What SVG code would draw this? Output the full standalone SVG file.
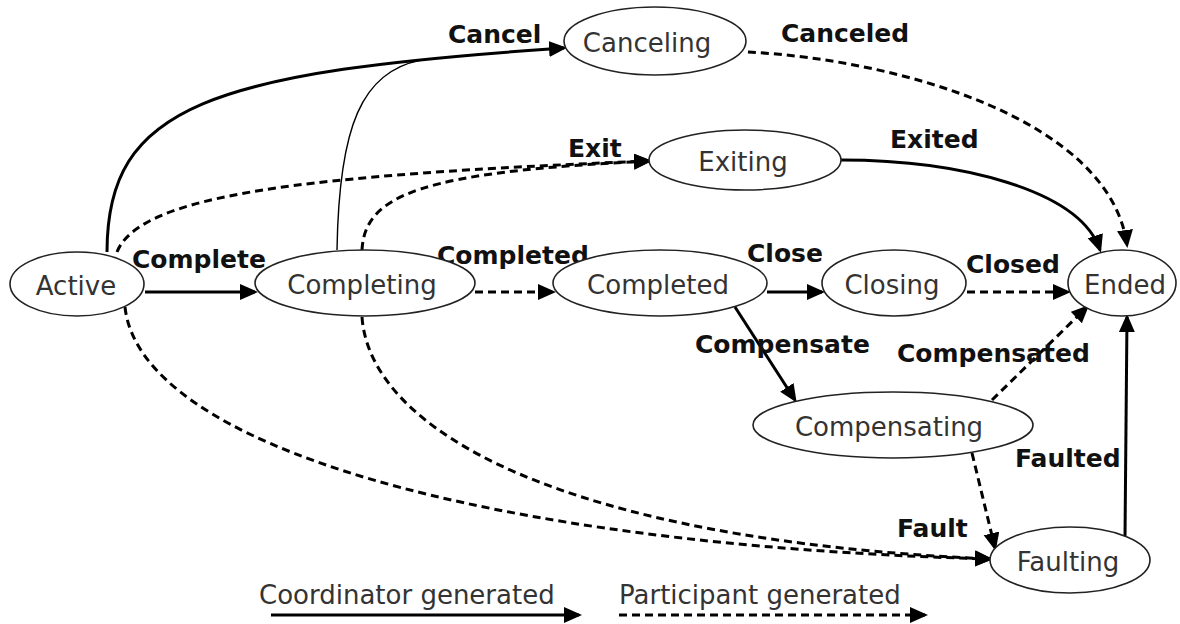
<svg xmlns="http://www.w3.org/2000/svg" width="1180" height="624" viewBox="0 0 1180 624">
<style>
.node ellipse{fill:#fff;stroke:#222;stroke-width:1.6}
.node text{font-family:"DejaVu Sans",Verdana,sans-serif;font-size:26px;fill:#333;text-anchor:middle}
.lbl{font-family:"DejaVu Sans",Verdana,sans-serif;font-size:25px;font-weight:bold;fill:#111}
.leg{font-family:"DejaVu Sans",Verdana,sans-serif;font-size:26px;fill:#333}
.solid{fill:none;stroke:#000;stroke-width:3;marker-end:url(#ah)}
.thin{fill:none;stroke:#000;stroke-width:1.4}
.dash{fill:none;stroke:#000;stroke-width:3;stroke-dasharray:8 5;marker-end:url(#ah)}
</style>
<defs>
<marker id="ah" markerUnits="userSpaceOnUse" markerWidth="19" markerHeight="17" refX="15" refY="8" orient="auto">
<path d="M0,0 L18,8 L0,16 z" fill="#000"/>
</marker>
</defs>
<rect width="1180" height="624" fill="#fff"/>
<g id="connectors">
<path class="solid" d="M107,252 C107,105 210,72 564,48"/>
<path class="thin" d="M337,250 C339,125 362,72 421,60"/>
<path class="dash" d="M117,252 C140,195 300,175 649,161"/>
<path class="dash" d="M362,250 C365,195 420,172 649,161"/>
<path class="dash" d="M125,307 C140,445 480,545 990,559"/>
<path class="dash" d="M362,317 C370,430 560,540 990,559"/>
<path class="solid" d="M145,292 L255,292"/>
<path class="dash" d="M475,292 L553,292"/>
<path class="solid" d="M767,292 L822,292"/>
<path class="dash" d="M967,292 L1068,292"/>
<path class="solid" d="M841,160 C960,160 1080,190 1100,250"/>
<path class="dash" d="M748,52 C900,60 1110,120 1127,245"/>
<path class="solid" d="M735,307 L795,400"/>
<path class="dash" d="M992,400 L1087,307"/>
<path class="dash" d="M972,453 L995,548"/>
<path class="solid" d="M1125,537 L1127,317"/>
<text class="lbl" x="448" y="43">Cancel</text>
<text class="lbl" x="781" y="42">Canceled</text>
<text class="lbl" x="568" y="157">Exit</text>
<text class="lbl" x="890" y="148">Exited</text>
<text class="lbl" x="132" y="268">Complete</text>
<text class="lbl" x="437" y="264">Completed</text>
<text class="lbl" x="747" y="262">Close</text>
<text class="lbl" x="966" y="273">Closed</text>
<text class="lbl" x="695" y="353">Compensate</text>
<text class="lbl" x="897" y="362">Compensated</text>
<text class="lbl" x="1015" y="467">Faulted</text>
<text class="lbl" x="897" y="537">Fault</text>
</g>
<g id="node-active" class="node"><ellipse cx="77" cy="284" rx="67" ry="32"/><text x="76" y="295">Active</text></g>
<g id="node-completing" class="node"><ellipse cx="365" cy="283" rx="110" ry="33"/><text x="362" y="294">Completing</text></g>
<g id="node-completed" class="node"><ellipse cx="660" cy="283" rx="107" ry="33"/><text x="658" y="294">Completed</text></g>
<g id="node-closing" class="node"><ellipse cx="894" cy="283" rx="72" ry="33"/><text x="892" y="294">Closing</text></g>
<g id="node-ended" class="node"><ellipse cx="1122" cy="283" rx="54" ry="33"/><text x="1125" y="294">Ended</text></g>
<g id="node-canceling" class="node"><ellipse cx="655" cy="41" rx="91" ry="34"/><text x="647" y="52">Canceling</text></g>
<g id="node-exiting" class="node"><ellipse cx="745" cy="160" rx="96" ry="30"/><text x="743" y="171">Exiting</text></g>
<g id="node-compensating" class="node"><ellipse cx="893" cy="425" rx="140" ry="33"/><text x="889" y="436">Compensating</text></g>
<g id="node-faulting" class="node"><ellipse cx="1070" cy="560" rx="80" ry="33"/><text x="1068" y="571">Faulting</text></g>
<g id="legend">
<text class="leg" x="259" y="604">Coordinator generated</text>
<path class="solid" d="M271,615 L579,615"/>
<text class="leg" x="619" y="604">Participant generated</text>
<path class="dash" d="M619,615 L925,615"/>
</g>
</svg>
